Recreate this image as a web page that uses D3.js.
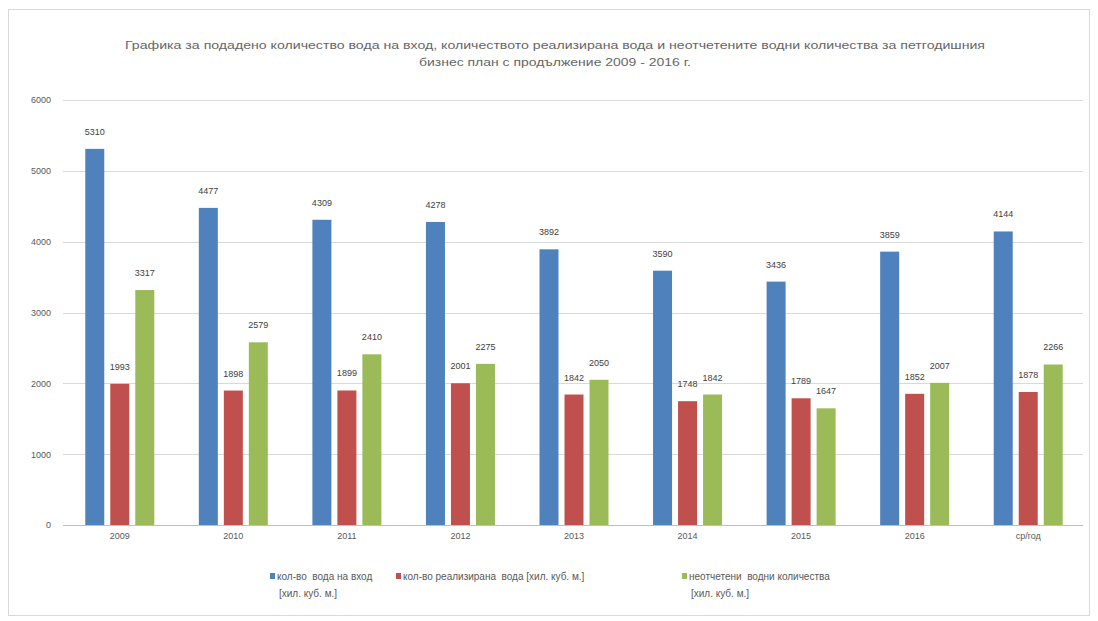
<!DOCTYPE html>
<html>
<head>
<meta charset="utf-8">
<script src="https://cdn.jsdelivr.net/npm/d3@7"></script>
<style>
  body { margin: 0; background: #fff; }
  text { font-family: "Liberation Sans Narrow", "Liberation Sans", "DejaVu Sans", sans-serif; fill: #595959; }
</style>
</head>
<body>
<div id="chart"></div>
<script>
var width = 1098, height = 621;
var margin = { top: 100, right: 13, bottom: 96, left: 63 };

// data
var categories = ['2009', '2010', '2011', '2012', '2013', '2014', '2015', '2016', 'ср/год'];
var waterIn = [5310, 4477, 4309, 4278, 3892, 3590, 3436, 3859, 4144];
var waterSold = [1993, 1898, 1899, 2001, 1842, 1748, 1789, 1852, 1878];
var waterLost = [3317, 2579, 2410, 2275, 2050, 1842, 1647, 2007, 2266];
var yTicks = [0, 1000, 2000, 3000, 4000, 5000, 6000];
var seriesNames = ['кол-во  вода на вход', 'кол-во реализирана  вода [хил. куб. м.]', 'неотчетени  водни количества'];
var seriesColors = ['#4F81BD', '#C0504D', '#9BBB59'];

var series = [waterIn, waterSold, waterLost];

var svg = d3.select('#chart')
  .append('svg')
  .attr('width', width)
  .attr('height', height);

// outer chart border
svg.append('rect')
  .attr('x', 8.5)
  .attr('y', 9.5)
  .attr('width', 1081)
  .attr('height', 606)
  .attr('fill', '#fff')
  .attr('stroke', '#d9d9d9')

// title
svg.append('text')
  .attr('x', 555)
  .attr('y', 49)
  .attr('text-anchor', 'middle')
  .attr('textLength', 860)
  .attr('lengthAdjust', 'spacingAndGlyphs')
  .style('font-size', '11px')
  .style('fill', '#666')
  .text('Графика за подадено количество вода на вход, количеството реализирана вода и неотчетените водни количества за петгодишния')

svg.append('text')
  .attr('x', 555)
  .attr('y', 66)
  .attr('text-anchor', 'middle')
  .attr('textLength', 272)
  .attr('lengthAdjust', 'spacingAndGlyphs')
  .style('font-size', '11px')
  .style('fill', '#666')
  .text('бизнес план с продължение 2009 - 2016 г.')

// scales
var x0 = d3.scaleBand()
  .domain(categories)
  .range([margin.left, width - margin.right])

var x1 = d3.scaleBand()
  .domain([0, 1, 2])
  .range([-37.5, 37.5])
  .paddingInner(0.24)
  .paddingOuter(0.12)

var yScale = d3.scaleLinear()
  .domain([0, 6000])
  .range([height - margin.bottom, margin.top])

// Y grid
svg.append('g')
  .attr('class', 'grid')
  .selectAll('line')
  .data(yTicks)
  .enter()
  .append('line')
  .attr('x1', margin.left)
  .attr('x2', width - margin.right - 2)
  .attr('y1', d => Math.round(yScale(d)) + 0.5)
  .attr('y2', d => Math.round(yScale(d)) + 0.5)
  .attr('stroke', d => d === 0 ? '#bfbfbf' : '#d9d9d9')
  .attr('stroke-width', 1.2)

// Y axis
var yAxis = d3.axisLeft(yScale)
  .tickValues(yTicks)
  .tickFormat(d3.format('d'))
  .tickSize(0)
  .tickPadding(12)

var yRender = svg.append('g')
  .attr('transform', `translate(${margin.left},0)`)
  .call(yAxis)

yRender.select('.domain').remove()
yRender.selectAll('text')
  .style('font-size', '9px')
  .style('fill', '#595959')
  .style('font-family', '"Liberation Sans Narrow", "Liberation Sans", sans-serif')

// X axis labels
var xAxis = d3.axisBottom(x0)
  .tickSize(0)
  .tickPadding(8)

var xRender = svg.append('g')
  .attr('transform', `translate(0,${height - margin.bottom})`)
  .call(xAxis)

xRender.select('.domain').remove()
xRender.selectAll('text')
  .style('font-size', '9px')
  .style('fill', '#595959')
  .style('font-family', '"Liberation Sans Narrow", "Liberation Sans", sans-serif')

// bars
var groups = svg.append('g')
  .attr('class', 'bars')
  .selectAll('g')
  .data(categories)
  .enter()
  .append('g')
  .attr('transform', d => `translate(${x0(d) + x0.bandwidth() / 2},0)`)

groups.selectAll('rect')
  .data((d, i) => series.map((s, k) => ({ k: k, v: s[i] })))
  .enter()
  .append('rect')
  .attr('x', d => x1(d.k))
  .attr('width', x1.bandwidth())
  .attr('y', d => yScale(d.v))
  .attr('height', d => yScale(0) - yScale(d.v))
  .attr('fill', d => seriesColors[d.k])

// value labels
groups.selectAll('text')
  .data((d, i) => series.map((s, k) => ({ k: k, v: s[i] })))
  .enter()
  .append('text')
  .attr('x', d => x1(d.k) + x1.bandwidth() / 2)
  .attr('y', d => yScale(d.v) - 14)
  .attr('text-anchor', 'middle')
  .style('font-size', '9px')
  .style('fill', '#404040')
  .text(d => d.v)

// legend
var legendItems = [
  { x: 270, lines: [seriesNames[0], '[хил. куб. м.]'] },
  { x: 396, lines: [seriesNames[1]] },
  { x: 682, lines: [seriesNames[2], '[хил. куб. м.]'] }
]

var legend = svg.append('g')
  .attr('class', 'legend')
  .selectAll('g')
  .data(legendItems)
  .enter()
  .append('g')
  .attr('transform', d => `translate(${d.x},578)`)

legend.append('rect')
  .attr('x', 0)
  .attr('y', -5)
  .attr('width', 5)
  .attr('height', 6)
  .attr('fill', (d, i) => seriesColors[i])

legend.selectAll('text')
  .data(d => d.lines)
  .enter()
  .append('text')
  .attr('x', (d, i) => i === 0 ? 7 : 9)
  .attr('y', (d, i) => 2 + i * 17)
  .style('font-size', '10px')
  .style('white-space', 'pre')
  .style('fill', '#595959')
  .text(d => d)
</script>
</body>
</html>
